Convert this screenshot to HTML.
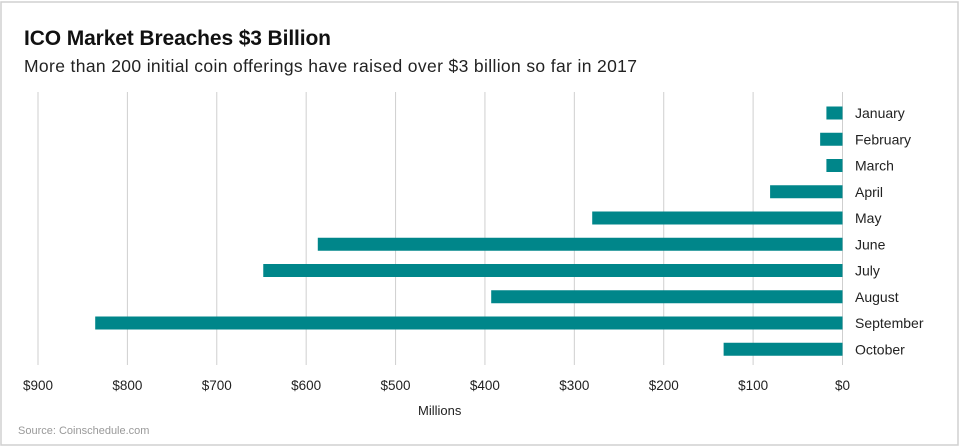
<!DOCTYPE html>
<html><head><meta charset="utf-8"><style>
body{margin:0;background:#fff;}
svg{display:block;font-family:"Liberation Sans",sans-serif;}
</style></head><body>
<svg id="c" width="960" height="448">
<rect x="1" y="2" width="957" height="443" fill="#fff" stroke="#d0d0d0" stroke-width="1.5"/>
<text x="24" y="45" font-size="21" font-weight="bold" fill="#111" textLength="307">ICO Market Breaches $3 Billion</text>
<text x="24" y="72" font-size="17.5" fill="#222" textLength="613">More than 200 initial coin offerings have raised over $3 billion so far in 2017</text>
<text x="418" y="415" font-size="13" fill="#222">Millions</text>
<text x="18" y="434" font-size="11" fill="#999">Source: Coinschedule.com</text>
<g id="grid"></g><g id="bars"></g><g id="labels"></g>
</svg>
<script>
const months=["January","February","March","April","May","June","July","August","September","October"];
const values=[18,25,18,81,280,587,648,393,836,133];
const ticks=[900,800,700,600,500,400,300,200,100,0];
const ns="http://www.w3.org/2000/svg";
const x0=842.5, pxPer=(842.5-38)/900;
const xs=v=>x0-v*pxPer;
const ys=i=>113+i*26.25;
const g=document.getElementById('grid'),b=document.getElementById('bars'),l=document.getElementById('labels');
function mk(t,a,p){const e=document.createElementNS(ns,t);for(const k in a)e.setAttribute(k,a[k]);p.appendChild(e);return e;}
ticks.forEach(t=>{
 const ln=mk('line',{x1:xs(t),x2:xs(t),y1:92,y2:365,stroke:'#cfcfcf','stroke-width':1},g);
 
 
 const tx=mk('text',{x:xs(t),y:390,'font-size':13.5,fill:'#222','text-anchor':'middle'},g);
 tx.textContent='$'+t;
 
 
});
months.forEach((m,i)=>{
 const r=mk('rect',{x:xs(values[i]),y:ys(i)-6.5,width:x0-xs(values[i]),height:13,fill:'#00868a'},b);
 
 
 const tx=mk('text',{x:855,y:ys(i)+5,'font-size':14,fill:'#222'},l);
 tx.textContent=m;
 
 
});
</script>
</body></html>
